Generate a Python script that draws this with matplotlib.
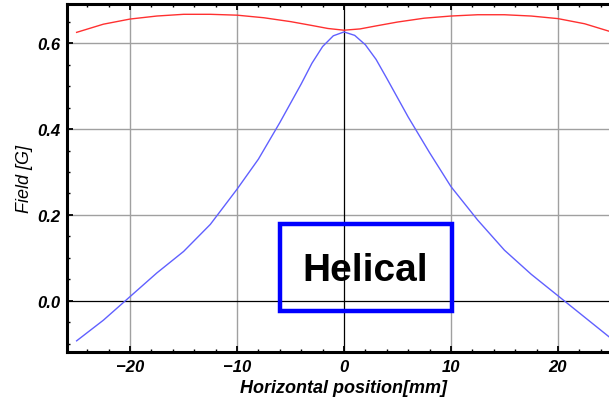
import numpy as np
import matplotlib
matplotlib.use("Agg")
import matplotlib.pyplot as plt
from matplotlib.patches import Rectangle
from matplotlib.ticker import MultipleLocator

# red curve
red_x = [-25, -22.5, -20, -17.5, -15, -12.5, -10, -7.5, -5, -3, -1.5, 0,
         1.5, 3, 5, 7.5, 10, 12.5, 15, 17.5, 20, 22.5, 25]
red_y = [0.625, 0.644, 0.656, 0.663, 0.667, 0.667, 0.665, 0.659, 0.650, 0.641,
         0.634, 0.630, 0.633, 0.640, 0.649, 0.658, 0.663, 0.666, 0.666, 0.663,
         0.657, 0.645, 0.626]

# blue curve
blue_x = [-25, -22.5, -20, -17.5, -15, -12.5, -10, -8, -6, -4, -3, -2, -1, 0,
          1, 2, 3, 4, 6, 8, 10, 12.5, 15, 17.5, 20, 22.5, 25]
blue_y = [-0.093, -0.045, 0.010, 0.065, 0.115, 0.178, 0.260, 0.330, 0.415,
          0.505, 0.553, 0.592, 0.617, 0.626, 0.618, 0.596, 0.562, 0.518,
          0.428, 0.345, 0.266, 0.188, 0.118, 0.062, 0.012, -0.038, -0.088]

plt.rcParams['font.family'] = ['Liberation Sans', 'DejaVu Sans']

fig = plt.figure(figsize=(6.09, 4.06), dpi=100)
ax = fig.add_axes([67/609, 53/406, 554/609, 348/406])

ax.set_xlim(-25.9, 25.9)
ax.set_ylim(-0.119, 0.691)

# grid
for gx in [-20, -10, 10, 20]:
    ax.axvline(gx, color='#a0a0a0', lw=1.0, zorder=1)
for gy in [0.2, 0.4, 0.6]:
    ax.axhline(gy, color='#a0a0a0', lw=1.0, zorder=1)
ax.axvline(0, color='black', lw=0.9, zorder=1)
ax.axhline(0, color='black', lw=0.9, zorder=1)

ax.plot(red_x, red_y, color='#ff3030', lw=1.0, zorder=3)
ax.plot(blue_x, blue_y, color='#6060ff', lw=1.0, zorder=3)

# label box
ax.add_patch(Rectangle((-6.0, -0.023), 16.1, 0.202, fill=False,
                       edgecolor='#0000ff', lw=3.2, zorder=4))
ax.text(2.0, 0.073, 'Helical', ha='center', va='center', fontsize=28,
        fontweight='bold', color='black', zorder=5)

for s in ax.spines.values():
    s.set_linewidth(2.2)
    s.set_color('black')

ax.xaxis.set_major_locator(MultipleLocator(10))
ax.xaxis.set_minor_locator(MultipleLocator(2))
ax.yaxis.set_major_locator(MultipleLocator(0.2))
ax.yaxis.set_minor_locator(MultipleLocator(0.05))
ax.tick_params(which='both', direction='in', top=True, right=True, color='black')
ax.tick_params(which='major', length=4, width=1.3)
ax.tick_params(which='minor', length=2.5, width=1.0)
ax.tick_params(axis='both', labelsize=12, pad=5)

ax.set_xticks([-20, -10, 0, 10, 20])
ax.set_xticklabels(['\u221220', '\u221210', '0', '10', '20'])
ax.set_yticks([0.0, 0.2, 0.4, 0.6])
ax.set_yticklabels(['0.0', '0.2', '0.4', '0.6'])
for lab in ax.get_xticklabels() + ax.get_yticklabels():
    lab.set_fontweight('bold')
    lab.set_fontstyle('italic')

ax.set_xlabel('Horizontal position[mm]', fontsize=13, fontstyle='italic',
              fontweight='bold', labelpad=4)
ax.set_ylabel('Field [G]', fontsize=13, fontstyle='italic', labelpad=3)

fig.savefig('out.png', dpi=100)
